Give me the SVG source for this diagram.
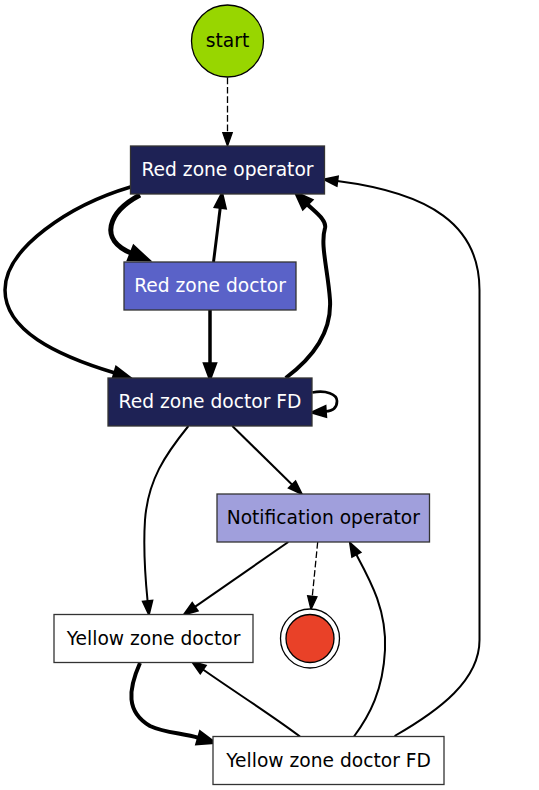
<svg xmlns="http://www.w3.org/2000/svg" width="539" height="790" viewBox="0 0 539 790">
<style>
  .box { stroke: #333333; stroke-width: 1.3; }
  .lbl { font-family: "DejaVu Sans", "Liberation Sans", sans-serif; font-size: 18.67px; text-anchor: middle; }
  .light { fill: #ffffff; }
  .dark { fill: #000000; }
  .e { fill: none; stroke: #000000; }
  .dash { stroke-dasharray: 6.7,2.7; }
</style>
<defs>
  <marker id="a13" markerUnits="userSpaceOnUse" markerWidth="40" markerHeight="40" refX="0" refY="0" orient="auto" overflow="visible"><path d="M0,-4.7 L13.3,0 L0,4.7 Z" fill="#000" stroke="#000" stroke-width="1.3"/></marker>
  <marker id="a2" markerUnits="userSpaceOnUse" markerWidth="40" markerHeight="40" refX="0" refY="0" orient="auto" overflow="visible"><path d="M0,-4.7 L13.3,0 L0,4.7 Z" fill="#000" stroke="#000" stroke-width="2"/></marker>
  <marker id="a27" markerUnits="userSpaceOnUse" markerWidth="40" markerHeight="40" refX="0" refY="0" orient="auto" overflow="visible"><path d="M0,-5 L13.3,0 L0,5 Z" fill="#000" stroke="#000" stroke-width="2.7"/></marker>
  <marker id="a3" markerUnits="userSpaceOnUse" markerWidth="40" markerHeight="40" refX="0" refY="0" orient="auto" overflow="visible"><path d="M0,-5 L13.5,0 L0,5 Z" fill="#000" stroke="#000" stroke-width="3"/></marker>
  <marker id="a35" markerUnits="userSpaceOnUse" markerWidth="40" markerHeight="40" refX="0" refY="0" orient="auto" overflow="visible"><path d="M0,-5.2 L14,0 L0,5.2 Z" fill="#000" stroke="#000" stroke-width="3.5"/></marker>
  <marker id="a4" markerUnits="userSpaceOnUse" markerWidth="40" markerHeight="40" refX="0" refY="0" orient="auto" overflow="visible"><path d="M0,-5.4 L14.5,0 L0,5.4 Z" fill="#000" stroke="#000" stroke-width="4"/></marker>
  <marker id="a5" markerUnits="userSpaceOnUse" markerWidth="40" markerHeight="40" refX="0" refY="0" orient="auto" overflow="visible"><path d="M0,-5.8 L15,0 L0,5.8 Z" fill="#000" stroke="#000" stroke-width="5"/></marker>
</defs>

<g id="edges">
  <path id="e-start-rzo" class="e dash" stroke-width="1.3" marker-end="url(#a13)" d="M227.5,77.5 L227.5,132.7"/>
  <path id="e-rzo-rzd" class="e" stroke-width="5" marker-end="url(#a5)" d="M140,195 C108,212 98,240 132,253.5"/>
  <path id="e-rzd-rzo" class="e" stroke-width="3" marker-end="url(#a3)" d="M213.5,262 L220.3,207.4"/>
  <path id="e-rzo-rzdfd" class="e" stroke-width="3.5" marker-end="url(#a35)" d="M130.5,187 C70,205 5,248 5,290 C5,330 55,355 115,373"/>
  <path id="e-rzd-rzdfd" class="e" stroke-width="3.5" marker-end="url(#a35)" d="M210,310 L210,364"/>
  <path id="e-rzdfd-rzo" class="e" stroke-width="4" marker-end="url(#a4)" d="M285.7,378 C310,360 332,335 330,300 C328,270 320,245 325,228 C327,220 315,212 307,204"/>
  <path id="e-rzdfd-self" class="e" stroke-width="2.7" marker-end="url(#a27)" d="M312.3,392.5 C326,390 337,394 337,401 C337,407 333,411 325.5,411.5"/>
  <path id="e-rzdfd-no" class="e" stroke-width="2" marker-end="url(#a2)" d="M232.3,426 L292.2,484.7"/>
  <path id="e-rzdfd-yzd" class="e" stroke-width="2" marker-end="url(#a2)" d="M188.4,426 C165,455 148,480 145,520 C143,550 145,575 147.6,601.2"/>
  <path id="e-no-end" class="e dash" stroke-width="1.3" marker-end="url(#a13)" d="M317.7,542 L312.3,596.3"/>
  <path id="e-no-yzd" class="e" stroke-width="2" marker-end="url(#a2)" d="M288.3,542 L194.9,606.9"/>
  <path id="e-yzd-yzdfd" class="e" stroke-width="4" marker-end="url(#a4)" d="M140,663 C128,690 126,712 150,726 C165,733 182,733 199,738"/>
  <path id="e-yzdfd-yzd" class="e" stroke-width="2" marker-end="url(#a2)" d="M300,736.5 C270,714 235,692 203,669.5"/>
  <path id="e-yzdfd-no" class="e" stroke-width="2" marker-end="url(#a2)" d="M354,736.5 C370,715 383,690 385,650 C387,610 370,580 356.3,554.5"/>
  <path id="e-yzdfd-rzo" class="e" stroke-width="2" marker-end="url(#a2)" d="M394.6,736 C440,710 479.5,680 479.5,640 L479.5,290 C479.5,225 430,193 337.3,181.1"/>
</g>

<g id="start">
  <circle cx="227.5" cy="41" r="36" fill="#98d600" stroke="#000" stroke-width="1.3"/>
  <text class="lbl dark" x="227.5" y="47">start</text>
</g>
<g id="red-zone-operator">
  <rect class="box" x="130.5" y="146" width="194" height="48" fill="#1e2255"/>
  <text class="lbl light" x="227.5" y="176">Red zone operator</text>
</g>
<g id="red-zone-doctor">
  <rect class="box" x="124" y="262" width="172" height="48" fill="#5a62c8"/>
  <text class="lbl light" x="210" y="292">Red zone doctor</text>
</g>
<g id="red-zone-doctor-fd">
  <rect class="box" x="108" y="378" width="204" height="48" fill="#1e2255"/>
  <text class="lbl light" x="210" y="408">Red zone doctor FD</text>
</g>
<g id="notification-operator">
  <rect class="box" x="217" y="494" width="212.5" height="48" fill="#a09fdc"/>
  <text class="lbl dark" x="323.3" y="524">Notification operator</text>
</g>
<g id="yellow-zone-doctor">
  <rect class="box" x="54" y="614.5" width="199" height="48" fill="#ffffff"/>
  <text class="lbl dark" x="153.5" y="644.5">Yellow zone doctor</text>
</g>
<g id="end">
  <circle cx="310" cy="638.5" r="29.5" fill="#ffffff" stroke="#000" stroke-width="1.3"/>
  <circle cx="310" cy="638.5" r="24" fill="#e94128" stroke="#000" stroke-width="1.3"/>
</g>
<g id="yellow-zone-doctor-fd">
  <rect class="box" x="213" y="736.5" width="231" height="48" fill="#ffffff"/>
  <text class="lbl dark" x="328.5" y="766.5">Yellow zone doctor FD</text>
</g>
</svg>
